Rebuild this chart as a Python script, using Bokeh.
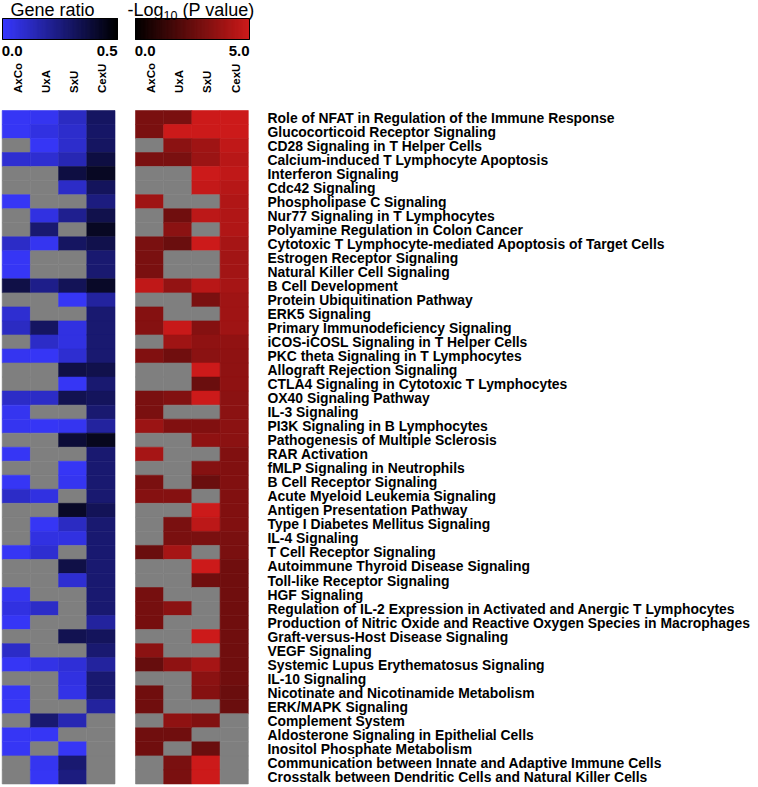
import math
import numpy as np
from bokeh.plotting import figure
from bokeh.models import ColumnDataSource, LinearColorMapper, Range1d
from bokeh.core.properties import value
from bokeh.embed import file_html
from bokeh.resources import INLINE

N = float("nan")

pathways = [
    "Role of NFAT in Regulation of the Immune Response",
    "Glucocorticoid Receptor Signaling",
    "CD28 Signaling in T Helper Cells",
    "Calcium-induced T Lymphocyte Apoptosis",
    "Interferon Signaling",
    "Cdc42 Signaling",
    "Phospholipase C Signaling",
    "Nur77 Signaling in T Lymphocytes",
    "Polyamine Regulation in Colon Cancer",
    "Cytotoxic T Lymphocyte-mediated Apoptosis of Target Cells",
    "Estrogen Receptor Signaling",
    "Natural Killer Cell Signaling",
    "B Cell Development",
    "Protein Ubiquitination Pathway",
    "ERK5 Signaling",
    "Primary Immunodeficiency Signaling",
    "iCOS-iCOSL Signaling in T Helper Cells",
    "PKC theta Signaling in T Lymphocytes",
    "Allograft Rejection Signaling",
    "CTLA4 Signaling in Cytotoxic T Lymphocytes",
    "OX40 Signaling Pathway",
    "IL-3 Signaling",
    "PI3K Signaling in B Lymphocytes",
    "Pathogenesis of Multiple Sclerosis",
    "RAR Activation",
    "fMLP Signaling in Neutrophils",
    "B Cell Receptor Signaling",
    "Acute Myeloid Leukemia Signaling",
    "Antigen Presentation Pathway",
    "Type I Diabetes Mellitus Signaling",
    "IL-4 Signaling",
    "T Cell Receptor Signaling",
    "Autoimmune Thyroid Disease Signaling",
    "Toll-like Receptor Signaling",
    "HGF Signaling",
    "Regulation of IL-2 Expression in Activated and Anergic T Lymphocytes",
    "Production of Nitric Oxide and Reactive Oxygen Species in Macrophages",
    "Graft-versus-Host Disease Signaling",
    "VEGF Signaling",
    "Systemic Lupus Erythematosus Signaling",
    "IL-10 Signaling",
    "Nicotinate and Nicotinamide Metabolism",
    "ERK/MAPK Signaling",
    "Complement System",
    "Aldosterone Signaling in Epithelial Cells",
    "Inositol Phosphate Metabolism",
    "Communication between Innate and Adaptive Immune Cells",
    "Crosstalk between Dendritic Cells and Natural Killer Cells",
]

comparisons = ["AxCo", "UxA", "SxU", "CexU"]

# Gene ratio (NaN = not significant, grey)
ratio_AxCo = [0.02, 0.02, N, 0.09, N, N, 0.02, N, N, 0.11, 0.02, 0.02, 0.36, N, 0.09, 0.12,
              N, 0.03, N, N, 0.11, 0.03, 0.03, N, 0.02, N, 0.02, 0.11, N, N, N, 0.02,
              N, N, 0.03, 0.06, 0.02, N, 0.11, 0.02, N, 0.02, 0.02, N, 0.02, 0.02, N, N]
ratio_UxA = [0.03, 0.06, 0.02, 0.09, N, N, N, 0.06, 0.28, 0.03, N, N, 0.23, N, N, 0.31,
             0.11, 0.02, N, N, 0.11, N, 0.02, N, N, N, N, 0.06, N, 0.02, 0.06, 0.09,
             N, N, N, 0.11, N, N, N, 0.05, N, N, N, 0.28, 0.02, N, 0.03, 0.02]
ratio_SxU = [0.12, 0.10, 0.10, 0.15, 0.37, 0.11, N, 0.22, N, 0.31, N, N, 0.33, 0.02, N, 0.06,
             0.06, 0.09, 0.36, 0.02, 0.34, N, 0.03, 0.39, N, 0.02, 0.03, N, 0.42, 0.12, 0.06, N,
             0.36, 0.09, N, N, N, 0.34, N, 0.08, 0.06, 0.05, N, 0.15, N, 0.02, 0.28, 0.25]
ratio_CexU = [0.31, 0.30, 0.31, 0.37, 0.43, 0.32, 0.25, 0.35, 0.43, 0.35, 0.28, 0.28, 0.42, 0.19, 0.28, 0.28,
              0.28, 0.28, 0.35, 0.28, 0.32, 0.28, 0.19, 0.44, 0.28, 0.28, 0.28, 0.28, 0.33, 0.28, 0.28, 0.28,
              0.28, 0.28, 0.28, 0.28, 0.19, 0.32, 0.28, 0.19, 0.28, 0.28, 0.19, N, N, N, N, N]

# -Log10(P value)
logp_AxCo = [3.0, 3.0, N, 3.0, N, N, 3.9, N, N, 3.0, 3.0, 3.0, 4.7, N, 3.25, 3.25,
             N, 3.15, N, N, 3.0, 3.0, 3.8, N, 4.05, N, 3.0, 3.25, N, N, N, 2.6,
             N, N, 2.9, 2.9, 2.9, N, 3.4, 2.5, N, 2.75, 2.75, N, 2.75, 2.75, N, N]
logp_UxA = [3.0, 5.2, 3.4, 3.0, N, N, N, 2.75, 3.4, 2.6, N, N, 3.6, N, N, 4.9,
            3.9, 2.75, N, N, 3.2, N, 3.15, N, N, N, N, 3.25, N, 3.0, 3.0, 4.05,
            N, N, N, 3.4, N, N, N, 3.5, N, N, N, 3.5, 2.75, N, 3.0, 3.0]
logp_SxU = [5.2, 5.2, 3.9, 3.8, 5.2, 4.8, N, 4.6, N, 5.2, N, N, 4.5, 3.0, N, 3.25,
            3.5, 3.4, 5.2, 2.6, 5.2, N, 3.15, 3.5, N, 3.25, 2.6, N, 5.2, 4.6, 3.0, N,
            5.2, 2.75, N, N, N, 5.2, N, 4.05, 3.4, 3.25, N, 3.15, N, 2.6, 5.2, 5.2]
logp_CexU = [5.2, 5.2, 4.7, 4.5, 4.7, 4.45, 4.3, 4.3, 4.3, 4.05, 3.95, 3.95, 4.05, 3.9, 3.9, 3.9,
             3.55, 3.5, 3.5, 3.5, 3.4, 3.4, 3.4, 3.4, 3.15, 3.15, 3.15, 3.15, 3.15, 3.15, 3.0, 3.0,
             2.75, 2.75, 2.75, 2.75, 2.75, 2.75, 2.75, 2.75, 2.75, 2.6, 2.6, N, N, N, N, N]

ratio_ticks = ["0.0", "0.5"]
logp_ticks = ["0.0", "5.0"]
ratio_low, ratio_high = 0.0, 0.5
logp_low, logp_high = 0.0, 5.0


def ramp(c0, c1, n=256):
    out = []
    for t in range(n):
        f = t / (n - 1)
        out.append("#%02x%02x%02x" % tuple(int(round(a + (b - a) * f)) for a, b in zip(c0, c1)))
    return out


blue_pal = ramp((56, 56, 255), (0, 0, 0))
red_pal = ramp((0, 0, 0), (204, 26, 26))
GREY = "#7f7f7f"

map_b = LinearColorMapper(palette=blue_pal, low=ratio_low, high=ratio_high,
                          nan_color=GREY, low_color=blue_pal[0], high_color=blue_pal[-1])
map_r = LinearColorMapper(palette=red_pal, low=logp_low, high=logp_high,
                          nan_color=GREY, low_color=red_pal[0], high_color=red_pal[-1])

# ---- layout (pixels) ----
W, H = 758, 787
COL = 28.2      # px per heatmap column
ROW = 14.03     # px per heatmap row
TOP = 110       # px from top of canvas to first row
X0PX = 1.7      # px of left edge of first heatmap
FONT = value("Liberation Sans")


def uy(py):
    return (py - TOP) / ROW


def ux(px):
    return (px - X0PX) / COL


X2 = ux(135)    # left edge of second heatmap (data units)
XL = ux(267)    # left of row labels

p = figure(width=W, height=H, x_range=Range1d(ux(0), ux(W)), y_range=Range1d(uy(H), uy(0)),
           output_backend="svg", toolbar_location=None, min_border=0,
           x_axis_location=None, y_axis_location=None, outline_line_color=None,
           background_fill_color="white", border_fill_color="white")
p.grid.visible = False

nrows = len(pathways)


def heat_source(cols, x0):
    xs, ys, vs = [], [], []
    for k, col in enumerate(cols):
        for i, v in enumerate(col):
            xs.append(x0 + k + 0.5)
            ys.append(i + 0.5)
            vs.append(v)
    return ColumnDataSource(dict(x=xs, y=ys, v=vs))


src_b = heat_source([ratio_AxCo, ratio_UxA, ratio_SxU, ratio_CexU], 0.0)
src_r = heat_source([logp_AxCo, logp_UxA, logp_SxU, logp_CexU], X2)

for src, mp in ((src_b, map_b), (src_r, map_r)):
    p.rect(x="x", y="y", width=1, height=1, source=src,
           fill_color={"field": "v", "transform": mp},
           line_color={"field": "v", "transform": mp}, line_width=0.6)

# row labels
p.text(x=[XL] * nrows, y=[i + 0.5 for i in range(nrows)], text=pathways,
       text_font=FONT, text_font_style="bold", text_font_size="13.9px",
       text_baseline="middle", text_align="left", text_color="black")

# column labels (rotated)
for x0 in (0.0, X2):
    p.text(x=[x0 + k + 0.55 for k in range(len(comparisons))], y=[uy(92.5)] * len(comparisons),
           text=comparisons, angle=math.pi / 2, text_font=FONT, text_font_style="bold",
           text_font_size="11.5px", text_align="left", text_baseline="middle", text_color="black")

# colour bars
BAR_T, BAR_B = 18, 39
bars = ((ux(2), ux(117), ratio_low, ratio_high, map_b),
        (ux(135), ux(249), logp_low, logp_high, map_r))
for xl, xr, lo, hi, mp in bars:
    edges = np.linspace(lo, hi, 129)
    left = xl + (edges[:-1] - lo) / (hi - lo) * (xr - xl)
    right = xl + (edges[1:] - lo) / (hi - lo) * (xr - xl)
    mid = (edges[:-1] + edges[1:]) / 2
    bs = ColumnDataSource(dict(left=left, right=right, v=mid))
    p.quad(left="left", right="right", top=uy(BAR_T), bottom=uy(BAR_B), source=bs,
           fill_color={"field": "v", "transform": mp},
           line_color={"field": "v", "transform": mp}, line_width=1)
    p.quad(left=[xl], right=[xr], top=[uy(BAR_T)], bottom=[uy(BAR_B)],
           fill_color=None, line_color="black", line_width=1)

# tick labels under colour bars
for (xl, xr, lo, hi, mp), ticks in zip(bars, (ratio_ticks, logp_ticks)):
    p.text(x=[xl - 0.03], y=[uy(50.3)], text=[ticks[0]], text_font=FONT, text_font_style="bold",
           text_font_size="15px", text_align="left", text_baseline="middle")
    p.text(x=[xr], y=[uy(50.3)], text=[ticks[1]], text_font=FONT, text_font_style="bold",
           text_font_size="15px", text_align="right", text_baseline="middle")

# titles
p.text(x=[ux(10)], y=[uy(9.4)], text=["Gene ratio"], text_font=FONT, text_font_size="18px",
       text_align="left", text_baseline="middle")
p.text(x=[ux(127)], y=[uy(9.4)], text=["-Log"], text_font=FONT, text_font_size="18px",
       text_align="left", text_baseline="middle")
p.text(x=[ux(163)], y=[uy(15.0)], text=["10"], text_font=FONT, text_font_size="12.5px",
       text_align="left", text_baseline="middle")
p.text(x=[ux(182)], y=[uy(9.4)], text=["(P value)"], text_font=FONT, text_font_size="18px",
       text_align="left", text_baseline="middle")

open("out.html", "w").write(file_html(p, INLINE))
